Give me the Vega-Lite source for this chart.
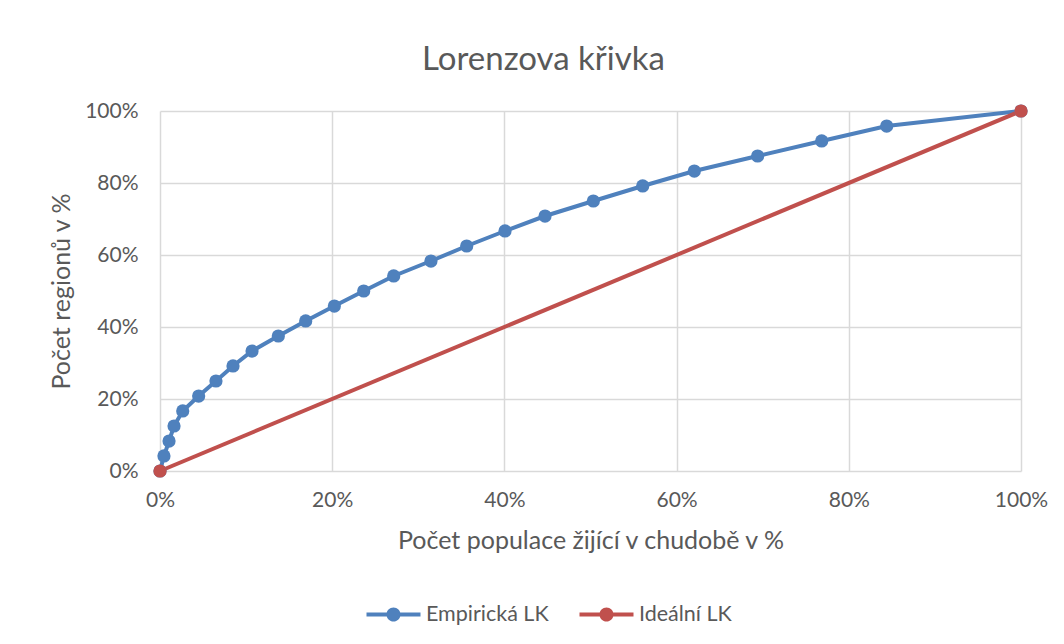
{
  "$schema": "https://vega.github.io/schema/vega-lite/v6.json",
  "width": 861,
  "height": 360,
  "autosize": "none",
  "padding": {"left": 160, "top": 111, "right": 43, "bottom": 173},
  "background": "white",
  "title": {
    "text": "Lorenzova křivka",
    "font": "Lato",
    "fontSize": 33,
    "fontWeight": "normal",
    "color": "#595959",
    "anchor": "middle",
    "dx": -47,
    "offset": 23
  },
  "data": {
    "values": [
      {"s": "Empirická LK", "p": 0, "r": 0},
      {"s": "Empirická LK", "p": 0.0046, "r": 0.0417},
      {"s": "Empirická LK", "p": 0.0105, "r": 0.0833},
      {"s": "Empirická LK", "p": 0.0163, "r": 0.125},
      {"s": "Empirická LK", "p": 0.0264, "r": 0.1667},
      {"s": "Empirická LK", "p": 0.0449, "r": 0.2083},
      {"s": "Empirická LK", "p": 0.065, "r": 0.25},
      {"s": "Empirická LK", "p": 0.0848, "r": 0.2917},
      {"s": "Empirická LK", "p": 0.1069, "r": 0.3333},
      {"s": "Empirická LK", "p": 0.1374, "r": 0.375},
      {"s": "Empirická LK", "p": 0.1692, "r": 0.4167},
      {"s": "Empirická LK", "p": 0.2025, "r": 0.4583},
      {"s": "Empirická LK", "p": 0.2366, "r": 0.5},
      {"s": "Empirická LK", "p": 0.2714, "r": 0.5417},
      {"s": "Empirická LK", "p": 0.3147, "r": 0.5833},
      {"s": "Empirická LK", "p": 0.3562, "r": 0.625},
      {"s": "Empirická LK", "p": 0.4007, "r": 0.6667},
      {"s": "Empirická LK", "p": 0.4472, "r": 0.7083},
      {"s": "Empirická LK", "p": 0.5033, "r": 0.75},
      {"s": "Empirická LK", "p": 0.5606, "r": 0.7917},
      {"s": "Empirická LK", "p": 0.6206, "r": 0.8333},
      {"s": "Empirická LK", "p": 0.6941, "r": 0.875},
      {"s": "Empirická LK", "p": 0.7685, "r": 0.9167},
      {"s": "Empirická LK", "p": 0.844, "r": 0.9583},
      {"s": "Empirická LK", "p": 1, "r": 1},
      {"s": "Ideální LK", "p": 0, "r": 0},
      {"s": "Ideální LK", "p": 1, "r": 1}
    ]
  },
  "encoding": {
    "x": {
      "field": "p",
      "type": "quantitative",
      "scale": {"domain": [0, 1], "nice": false, "zero": true},
      "axis": {
        "values": [0, 0.2, 0.4, 0.6, 0.8, 1],
        "format": ".0%",
        "title": "Počet populace žijící v chudobě v %",
        "labelFlush": false,
        "labelPadding": 18,
        "titlePadding": 18
      }
    },
    "y": {
      "field": "r",
      "type": "quantitative",
      "scale": {"domain": [0, 1], "nice": false},
      "axis": {
        "values": [0, 0.2, 0.4, 0.6, 0.8, 1],
        "format": ".0%",
        "title": "Počet regionů v %",
        "labelFlush": false,
        "labelPadding": 22,
        "titlePadding": 10
      }
    },
    "color": {
      "field": "s",
      "type": "nominal",
      "scale": {"domain": ["Empirická LK", "Ideální LK"], "range": ["#4F81BD", "#C0504D"]},
      "legend": {
        "title": null,
        "orient": "none",
        "direction": "horizontal",
        "legendX": 220,
        "legendY": 490,
        "symbolType": "M-2,-0.14H2V0.14H-2Z M-0.52,0A0.52,0.52,0,1,1,0.52,0A0.52,0.52,0,1,1,-0.52,0Z",
        "symbolSize": 729,
        "symbolStrokeWidth": 0,
        "symbolOpacity": 1,
        "labelOffset": 19,
        "columnPadding": 30
      }
    }
  },
  "layer": [
    {"mark": {"type": "line", "strokeWidth": 4}},
    {"mark": {"type": "point", "filled": true, "opacity": 1, "size": 175}}
  ],
  "config": {
    "view": {"stroke": null},
    "font": "Lato",
    "axis": {
      "domain": false,
      "ticks": false,
      "grid": true,
      "gridColor": "#D9D9D9",
      "gridWidth": 1.5,
      "labelFont": "Lato",
      "labelFontSize": 21,
      "labelColor": "#595959",
      "titleFont": "Lato",
      "titleFontSize": 25,
      "titleFontWeight": "normal",
      "titleColor": "#595959"
    },
    "legend": {
      "labelFont": "Lato",
      "labelFontSize": 21.5,
      "labelColor": "#595959"
    }
  }
}
